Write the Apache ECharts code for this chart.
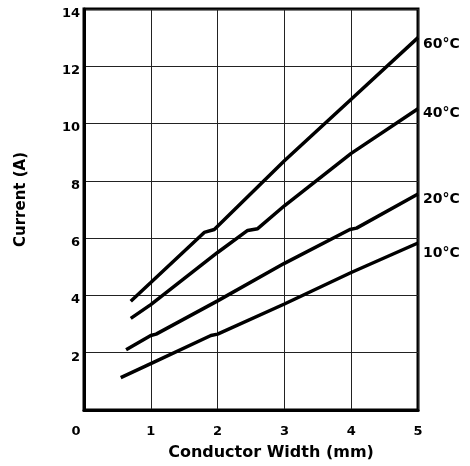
<!DOCTYPE html>
<html>
<head>
<meta charset="utf-8">
<script src="https://cdn.jsdelivr.net/npm/echarts@6/dist/echarts.min.js"></script>
<style>html,body{margin:0;padding:0;background:#fff}#c{width:470px;height:466px}</style>
</head>
<body>
<div id="c"></div>
<script>
const seriesNames = ['60°C', '40°C', '20°C', '10°C'];
const widths60 = [0.7, 1.0, 1.8, 1.95, 3.0, 4.0, 5.0];
const current60 = [3.8, 4.45, 6.2, 6.3, 8.7, 10.85, 13.0];
const widths40 = [0.7, 1.0, 2.0, 2.45, 2.6, 3.0, 4.0, 5.0];
const current40 = [3.2, 3.68, 5.5, 6.27, 6.33, 7.13, 8.96, 10.52];
const widths20 = [0.63, 1.0, 1.08, 2.0, 3.0, 3.98, 4.08, 5.0];
const current20 = [2.1, 2.6, 2.65, 3.81, 5.12, 6.3, 6.35, 7.54];
const widths10 = [0.55, 1.0, 1.9, 2.0, 3.0, 4.0, 5.0];
const current10 = [1.13, 1.62, 2.6, 2.65, 3.7, 4.8, 5.83];
const xTicks = [0, 1, 2, 3, 4, 5];
const yTicks = [2, 4, 6, 8, 10, 12, 14];

const FONT = 'DejaVu Sans';
const pairs = (xs, ys) => xs.map((x, i) => [x, ys[i]]);
const allData = [pairs(widths60, current60), pairs(widths40, current40), pairs(widths20, current20), pairs(widths10, current10)];
const labelOffsets = [[-3, 7], [-3, 5], [-3, 5], [-3, 10]];

const chart = echarts.init(document.getElementById('c'));
chart.setOption({
  animation: false,
  backgroundColor: '#fff',
  grid: { left: 84, right: 52, top: 9, bottom: 56, show: true, borderColor: '#000', borderWidth: 3 },
  xAxis: {
    type: 'value', min: 0, max: 5, interval: 1,
    name: 'Conductor Width (mm)', nameLocation: 'middle', nameGap: 35,
    nameTextStyle: { fontFamily: FONT, fontWeight: 'bold', fontSize: 16, color: '#000', padding: [0, 0, 0, 40] },
    axisLine: { show: true, lineStyle: { color: '#000', width: 3 } },
    axisTick: { show: false },
    axisLabel: {
      margin: 15, color: '#000', fontFamily: FONT, fontWeight: 'bold', fontSize: 13,
      formatter: v => xTicks.includes(v) ? (v === 0 ? '{z|0}' : String(v)) : '',
      rich: { z: { fontFamily: FONT, fontWeight: 'bold', fontSize: 13, color: '#000', padding: [0, 16, 0, 0] } }
    },
    splitLine: { show: true, lineStyle: { color: '#222', width: 1 } }
  },
  yAxis: {
    type: 'value', min: 0, max: 14, interval: 2,
    name: 'Current (A)', nameLocation: 'middle', nameGap: 55,
    nameTextStyle: { fontFamily: FONT, fontWeight: 'bold', fontSize: 15, color: '#000', padding: [0, 0, 0, 20] },
    axisLine: { show: true, lineStyle: { color: '#000', width: 3 } },
    axisTick: { show: false },
    axisLabel: {
      margin: 4, color: '#000', fontFamily: FONT, fontWeight: 'bold', fontSize: 13,
      showMinLabel: false,
      formatter: v => yTicks.includes(v) ? '{a|' + v + '}' : '',
      rich: { a: { fontFamily: FONT, fontWeight: 'bold', fontSize: 13, color: '#000', padding: [9, 0, 0, 0] } }
    },
    splitLine: { show: true, lineStyle: { color: '#222', width: 1 } }
  },
  series: seriesNames.map((name, i) => ({
    name, type: 'line', data: allData[i], showSymbol: false, smooth: false,
    lineStyle: { color: '#000', width: 3.5 },
    endLabel: {
      show: true, formatter: name, offset: labelOffsets[i],
      fontFamily: FONT, fontWeight: 'bold', fontSize: 14, color: '#000'
    }
  }))
});
</script>
</body>
</html>
